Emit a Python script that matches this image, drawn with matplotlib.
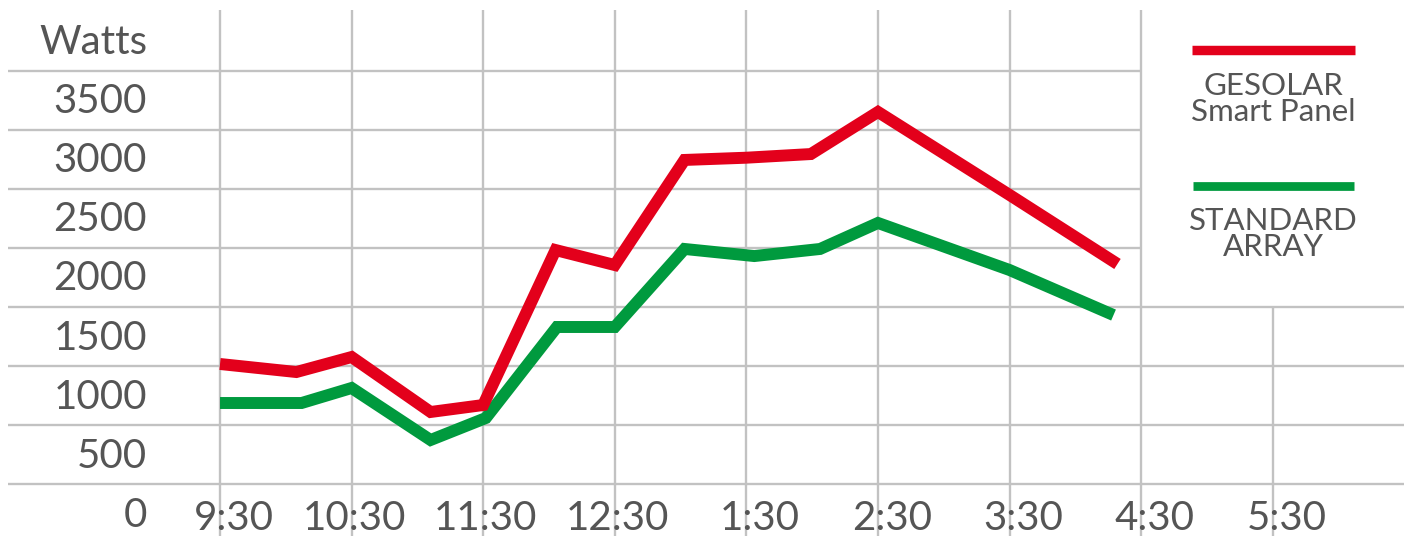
import matplotlib
matplotlib.use("Agg")
import matplotlib.pyplot as plt
from matplotlib.lines import Line2D

# ---------------- data ----------------
tick_hours = [9.5, 10.5, 11.5, 12.5, 13.5, 14.5, 15.5, 16.5, 17.5]
tick_labels = ["9:30", "10:30", "11:30", "12:30", "1:30", "2:30", "3:30", "4:30", "5:30"]
y_ticks = [0, 500, 1000, 1500, 2000, 2500, 3000, 3500]
y_title = "Watts"

red_name = "GESOLAR\nSmart Panel"
red_times = [9.5, 10.08, 10.5, 11.1, 11.5, 12.05, 12.5, 13.03, 13.5, 13.99, 14.5, 15.5, 16.32]
red_watts = [1018, 950, 1077, 612, 671, 1982, 1855, 2744, 2763, 2794, 3150, 2448, 1864]

green_name = "STANDARD\nARRAY"
green_times = [9.5, 10.12, 10.5, 11.1, 11.52, 12.06, 12.5, 13.03, 13.56, 14.06, 14.5, 15.5, 16.29]
green_watts = [688, 688, 815, 375, 561, 1331, 1331, 1991, 1931, 1991, 2211, 1813, 1432]

# ---------------- style ----------------
RED = "#e3001b"
GREEN = "#009a3e"
GRID = "#c2c2c2"
TXT = "#555555"
FONT = ["Lato", "DejaVu Sans"]
WEIGHT = "normal"

W, H = 1410, 536
fig = plt.figure(figsize=(W / 100, H / 100), dpi=100)
ax = fig.add_axes([0, 0, 1, 1])
ax.axis("off")
ax.set_xlim(7.828, 18.543)
ax.set_ylim(-437, 4097)

# grid
for v in y_ticks:
    xmax = 16.5 if v >= 2000 else 18.5
    ax.plot([7.89, xmax], [v, v], color=GRID, lw=1.7, zorder=1, solid_capstyle="butt")
for t in tick_hours:
    ytop = 4013 if t <= 16.5 else 1500
    ax.plot([t, t], [-437, ytop], color=GRID, lw=1.7, zorder=1, solid_capstyle="butt")

# series
for xs, ys, c in [(green_times, green_watts, GREEN), (red_times, red_watts, RED)]:
    ax.plot(xs, ys, color=c, lw=8.6, solid_joinstyle="miter", solid_capstyle="butt", zorder=3)

# y labels
ytrans = ax.get_yaxis_transform()
for v in y_ticks:
    ax.text(0.1043, v - 360, str(v), transform=ytrans, ha="right", va="baseline",
            fontsize=29, color=TXT, family=FONT, fontweight=WEIGHT)
ax.text(0.1043, 3640, y_title, transform=ytrans, ha="right", va="baseline",
        fontsize=29, color=TXT, family=FONT, fontweight=WEIGHT)

# x labels (colon aligned on grid line)
for t, lab in zip(tick_hours, tick_labels):
    hour = lab.split(":")[0]
    off = (2 - len(hour)) * 0.085
    ax.text(t + off + 0.02, -387, lab, ha="center", va="baseline",
            fontsize=29, color=TXT, family=FONT, fontweight=WEIGHT)

# legend
fig.add_artist(Line2D([1192 / W, 1355 / W], [1 - 49.5 / H, 1 - 49.5 / H], color=RED, lw=6.8,
                      solid_capstyle="butt", transform=fig.transFigure))
fig.add_artist(Line2D([1193 / W, 1354 / W], [1 - 186 / H, 1 - 186 / H], color=GREEN, lw=6.3,
                      solid_capstyle="butt", transform=fig.transFigure))
fig.text(1273 / W, 1 - 99 / H, red_name, ha="center", va="center", multialignment="center",
         fontsize=22.5, color=TXT, family=FONT, fontweight=WEIGHT, linespacing=0.92)
fig.text(1273 / W, 1 - 234 / H, green_name, ha="center", va="center", multialignment="center",
         fontsize=22.5, color=TXT, family=FONT, fontweight=WEIGHT, linespacing=0.92)

fig.savefig("out.png", dpi=100, facecolor="white")
